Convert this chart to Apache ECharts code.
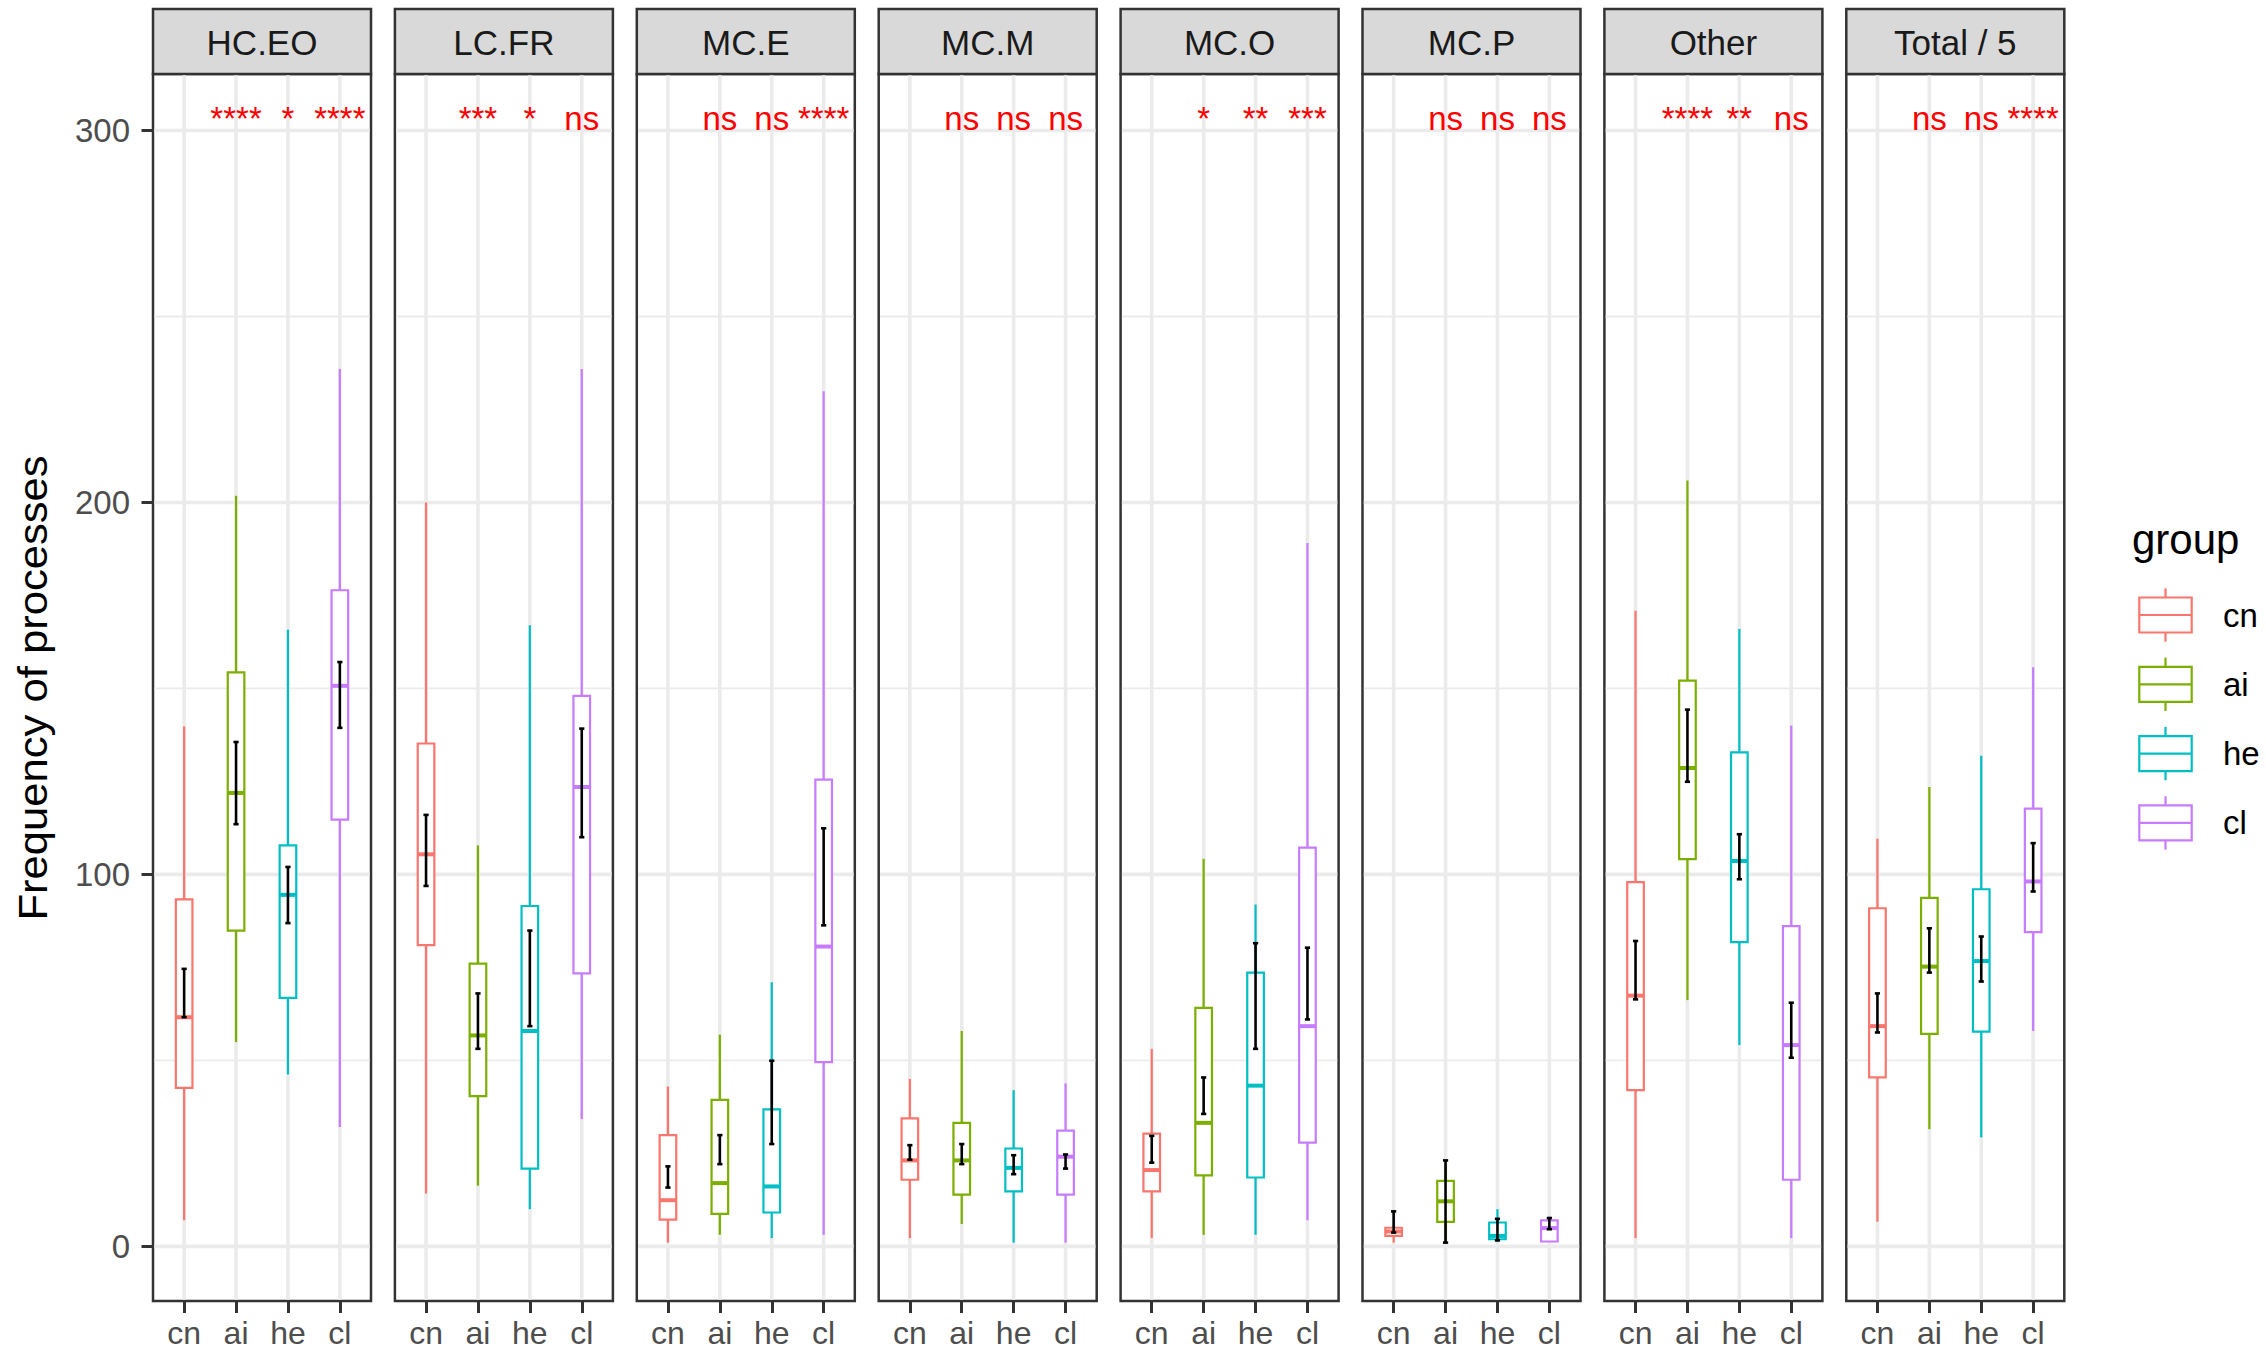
<!DOCTYPE html>
<html>
<head>
<meta charset="utf-8">
<script src="https://cdn.jsdelivr.net/npm/echarts@6/dist/echarts.min.js"></script>
<style>
html,body{margin:0;padding:0;background:#ffffff;}
#chart{width:2266px;height:1354px;}
</style>
</head>
<body>
<div id="chart"></div>
<script>
// ---------------- DATA ----------------
const facets = ['HC.EO', 'LC.FR', 'MC.E', 'MC.M', 'MC.O', 'MC.P', 'Other', 'Total / 5'];
const groups = ['cn', 'ai', 'he', 'cl'];
const yTicks = [0, 100, 200, 300];
const yMinorTicks = [50, 150, 250];
const xTicks = [1, 2, 3, 4];

// rows = facets, columns = groups (cn, ai, he, cl)
const whiskerLow = [
  [7.0, 54.9, 46.2, 32.1],
  [14.2, 16.3, 10.0, 34.2],
  [1.0, 3.1, 2.2, 3.1],
  [2.2, 6.0, 1.0, 1.0],
  [2.2, 3.1, 3.1, 7.0],
  [1.0, 1.0, 1.2, 1.3],
  [2.2, 66.2, 54.1, 2.2],
  [6.6, 31.5, 29.3, 57.9]
];
const q1 = [
  [42.6, 84.9, 66.8, 114.7],
  [81.0, 40.4, 20.9, 73.4],
  [7.2, 8.7, 9.1, 49.5],
  [17.9, 13.9, 14.8, 13.9],
  [14.8, 19.1, 18.5, 27.9],
  [2.8, 6.6, 1.9, 1.3],
  [42.0, 104.1, 81.8, 17.9],
  [45.4, 57.1, 57.7, 84.5]
];
const median = [
  [61.6, 121.9, 94.5, 150.7],
  [105.4, 56.7, 57.9, 123.5],
  [12.4, 17.0, 16.1, 80.6],
  [23.1, 23.1, 21.1, 24.1],
  [20.5, 33.2, 43.2, 59.2],
  [4.0, 12.1, 2.8, 4.9],
  [67.4, 128.6, 103.6, 54.1],
  [59.2, 75.2, 76.7, 98.1]
];
const q3 = [
  [93.3, 154.3, 107.8, 176.4],
  [135.2, 76.0, 91.5, 148.0],
  [29.9, 39.4, 36.8, 125.5],
  [34.4, 33.2, 26.3, 31.1],
  [30.3, 64.1, 73.6, 107.2],
  [5.0, 17.6, 6.4, 7.0],
  [97.9, 152.1, 132.8, 86.1],
  [90.9, 93.7, 96.0, 117.7]
];
const whiskerHigh = [
  [139.8, 201.8, 165.8, 235.9],
  [200.0, 107.8, 167.0, 235.9],
  [43.0, 56.9, 71.0, 229.9],
  [45.0, 57.9, 42.0, 43.8],
  [53.1, 104.2, 91.9, 189.1],
  [5.5, 22.0, 10.0, 8.0],
  [170.9, 205.9, 166.0, 140.0],
  [109.6, 123.5, 131.9, 155.7]
];
// mean - SE and mean + SE
const seLow = [
  [61.6, 113.5, 86.9, 139.4],
  [96.9, 53.1, 59.2, 110.0],
  [15.8, 22.1, 27.5, 86.3],
  [23.3, 22.1, 19.4, 20.9],
  [22.5, 35.6, 53.1, 61.0],
  [3.7, 1.0, 1.6, 4.6],
  [66.4, 124.9, 98.7, 50.7],
  [57.5, 73.6, 71.2, 95.4]
];
const seHigh = [
  [74.6, 135.6, 102.0, 157.1],
  [116.0, 68.0, 84.9, 139.2],
  [21.5, 29.9, 49.9, 112.4],
  [27.2, 27.5, 24.5, 24.7],
  [29.7, 45.4, 81.5, 80.3],
  [9.4, 23.1, 7.4, 7.6],
  [82.1, 144.3, 110.8, 65.5],
  [68.0, 85.5, 83.3, 108.4]
];
// significance vs cn, for ai, he, cl
const sigLabels = [
  ['****', '*', '****'],
  ['***', '*', 'ns'],
  ['ns', 'ns', '****'],
  ['ns', 'ns', 'ns'],
  ['*', '**', '***'],
  ['ns', 'ns', 'ns'],
  ['****', '**', 'ns'],
  ['ns', 'ns', '****']
];
const sigLabelY = 300;

// ---------------- STYLE / LAYOUT ----------------
const FONT = '"Liberation Sans", Arial, Helvetica, sans-serif';
const groupColors = ['#F8766D', '#7CAE00', '#00BFC4', '#C77CFF'];
const PANEL_LEFT0 = 153;
const PANEL_PITCH = 241.9;
const PANEL_W = 218;
const PANEL_TOP = 74;
const PANEL_H = 1227;
const STRIP_TOP = 9;
const Y_MIN = -14.7, Y_MAX = 315.2;
const X_MIN = 0.4, X_MAX = 4.6;
const BOX_WIDTH = 0.32;
const CAP_WIDTH = 0.1;

const chart = echarts.init(document.getElementById('chart'), null, {renderer: 'svg'});

const grids = [], xAxes = [], yAxes = [], series = [], graphics = [];

function renderGridLine(params, api) {
  const cs = params.coordSys;
  const kind = api.value(0), v = api.value(1);
  if (kind === 0) {
    const x = api.coord([v, 0])[0];
    return {type: 'line', shape: {x1: x, y1: cs.y + 1.3, x2: x, y2: cs.y + cs.height - 1.3},
      style: {stroke: '#EBEBEB', lineWidth: 3.6}};
  }
  const y = api.coord([1, v])[1];
  return {type: 'line', shape: {x1: cs.x + 1.3, y1: y, x2: cs.x + cs.width - 1.3, y2: y},
    style: {stroke: '#EBEBEB', lineWidth: kind === 1 ? 3.6 : 1.8}};
}

function renderBox(params, api) {
  const x = api.value(0);
  const color = groupColors[params.dataIndex];
  const lo = api.coord([x, api.value(1)]);
  const b1 = api.coord([x, api.value(2)]);
  const md = api.coord([x, api.value(3)]);
  const b3 = api.coord([x, api.value(4)]);
  const hi = api.coord([x, api.value(5)]);
  const el = api.coord([x, api.value(6)]);
  const eh = api.coord([x, api.value(7)]);
  const hw = api.size([BOX_WIDTH, 0])[0] / 2;
  const cw = api.size([CAP_WIDTH, 0])[0] / 2;
  const cx = lo[0];
  const lineStyle = {stroke: color, lineWidth: 2.2};
  return {
    type: 'group',
    children: [
      {type: 'line', shape: {x1: cx, y1: hi[1], x2: cx, y2: b3[1]}, style: lineStyle},
      {type: 'line', shape: {x1: cx, y1: b1[1], x2: cx, y2: lo[1]}, style: lineStyle},
      {type: 'rect', shape: {x: cx - hw, y: b3[1], width: 2 * hw, height: b1[1] - b3[1]},
        style: {fill: '#ffffff', stroke: color, lineWidth: 2.2}},
      {type: 'line', shape: {x1: cx - hw, y1: md[1], x2: cx + hw, y2: md[1]},
        style: {stroke: color, lineWidth: 4}},
      {type: 'line', shape: {x1: cx, y1: eh[1], x2: cx, y2: el[1]},
        style: {stroke: '#000000', lineWidth: 2.6}},
      {type: 'line', shape: {x1: cx - cw, y1: eh[1], x2: cx + cw, y2: eh[1]},
        style: {stroke: '#000000', lineWidth: 2.6}},
      {type: 'line', shape: {x1: cx - cw, y1: el[1], x2: cx + cw, y2: el[1]},
        style: {stroke: '#000000', lineWidth: 2.6}}
    ]
  };
}

function makeSigRenderer(f) {
  return function (params, api) {
    const p = api.coord([api.value(0), api.value(1)]);
    return {
      type: 'text', x: p[0], y: p[1] - 12,
      style: {text: sigLabels[f][params.dataIndex], fill: '#FF0000',
        font: '33px ' + FONT, align: 'center', verticalAlign: 'middle'}
    };
  };
}

const gridLineData = []
  .concat(yMinorTicks.map(v => [2, v]))
  .concat(yTicks.map(v => [1, v]))
  .concat(xTicks.map(v => [0, v]));

facets.forEach((name, f) => {
  const left = PANEL_LEFT0 + f * PANEL_PITCH;
  grids.push({left: left, top: PANEL_TOP, width: PANEL_W, height: PANEL_H,
    show: true, backgroundColor: '#ffffff', borderColor: '#333333', borderWidth: 2.5,
    containLabel: false, outerBoundsMode: 'none'});
  xAxes.push({
    type: 'value', gridIndex: f, min: X_MIN, max: X_MAX,
    splitLine: {show: false},
    axisLine: {show: false, onZero: false},
    axisTick: {show: true, customValues: xTicks, length: 12, lineStyle: {color: '#333333', width: 3}},
    axisLabel: {show: true, customValues: xTicks, formatter: v => groups[Math.round(v) - 1],
      fontSize: 32, fontFamily: FONT, color: '#4D4D4D', margin: 16}
  });
  yAxes.push({
    type: 'value', gridIndex: f, min: Y_MIN, max: Y_MAX,
    splitLine: {show: false},
    axisLine: {show: false, onZero: false},
    axisTick: {show: f === 0, customValues: yTicks, length: 11.5, lineStyle: {color: '#333333', width: 3}},
    axisLabel: {show: f === 0, customValues: yTicks, fontSize: 33, fontFamily: FONT,
      color: '#4D4D4D', margin: 23}
  });
  series.push({
    type: 'custom', name: 'grid-' + f, xAxisIndex: f, yAxisIndex: f, z: 1, silent: true,
    clip: false, renderItem: renderGridLine, data: gridLineData
  });
  series.push({
    type: 'custom', name: name, xAxisIndex: f, yAxisIndex: f, z: 3, silent: true,
    clip: false, renderItem: renderBox,
    data: groups.map((g, j) => [j + 1, whiskerLow[f][j], q1[f][j], median[f][j], q3[f][j],
      whiskerHigh[f][j], seLow[f][j], seHigh[f][j]])
  });
  series.push({
    type: 'custom', name: 'sig-' + f, xAxisIndex: f, yAxisIndex: f, z: 4, silent: true,
    clip: false, renderItem: makeSigRenderer(f),
    data: sigLabels[f].map((s, j) => [j + 2, sigLabelY])
  });
  // strip
  graphics.push({type: 'rect', shape: {x: left, y: STRIP_TOP, width: PANEL_W, height: PANEL_TOP - STRIP_TOP},
    style: {fill: '#D9D9D9', stroke: '#333333', lineWidth: 2.5}});
  graphics.push({type: 'text', x: left + PANEL_W / 2, y: (STRIP_TOP + PANEL_TOP) / 2 + 0.5,
    style: {text: name, font: '35px ' + FONT, fill: '#1A1A1A', align: 'center', verticalAlign: 'middle',
      textAlign: 'center', textVerticalAlign: 'middle'}});
});

// y-axis title
graphics.push({type: 'text', x: 33, y: 688, rotation: Math.PI / 2, scaleX: 1.09, scaleY: 1,
  style: {text: 'Frequency of processes', font: '40px ' + FONT, fill: '#000000',
    align: 'center', verticalAlign: 'middle', textAlign: 'center', textVerticalAlign: 'middle'}});

// legend
graphics.push({type: 'text', x: 2132, y: 539.5,
  style: {text: 'group', font: '42px ' + FONT, fill: '#000000', align: 'left', verticalAlign: 'middle',
    textAlign: 'left', textVerticalAlign: 'middle'}});
groups.forEach((g, j) => {
  const cy = 615 + j * 69.3;
  const c = groupColors[j];
  const kx = 2165.5;
  graphics.push({type: 'line', shape: {x1: kx, y1: cy - 26.7, x2: kx, y2: cy + 26.7},
    style: {stroke: c, lineWidth: 2.2}});
  graphics.push({type: 'rect', shape: {x: 2139.3, y: cy - 17.5, width: 52.4, height: 35},
    style: {fill: '#ffffff', stroke: c, lineWidth: 2.2}});
  graphics.push({type: 'line', shape: {x1: 2139.3, y1: cy, x2: 2191.7, y2: cy},
    style: {stroke: c, lineWidth: 2.2}});
  graphics.push({type: 'text', x: 2223, y: cy,
    style: {text: g, font: '33px ' + FONT, fill: '#000000', align: 'left', verticalAlign: 'middle',
      textAlign: 'left', textVerticalAlign: 'middle'}});
});

chart.setOption({
  animation: false,
  backgroundColor: '#ffffff',
  textStyle: {fontFamily: FONT},
  grid: grids,
  xAxis: xAxes,
  yAxis: yAxes,
  series: series,
  graphic: {elements: graphics}
});
</script>
</body>
</html>
